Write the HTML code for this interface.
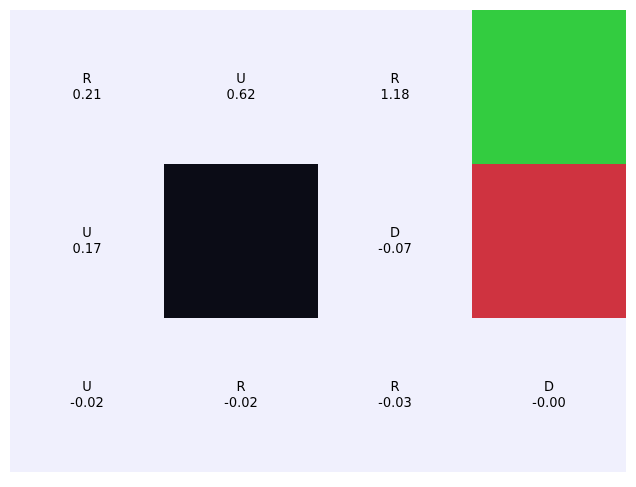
<!DOCTYPE html>
<html><head><meta charset="utf-8"><style>
html,body{margin:0;padding:0;background:#fff;}
svg text{font-family:"DejaVu Sans","Liberation Sans",sans-serif;font-size:13px;fill:#000;}
</style></head><body>
<svg id="chart" width="636" height="482" xmlns="http://www.w3.org/2000/svg"></svg>
<script>
const rows = 3, cols = 4;
const actions = [["R","U","R",""],["U","","D",""],["U","R","R","D"]];
const values = [[0.21,0.62,1.18,null],[0.17,null,-0.07,null],[-0.02,-0.02,-0.03,-0.00]];
const cellTypes = [["empty","empty","empty","goal"],["empty","wall","empty","pit"],["empty","empty","empty","empty"]];
const colors = {empty:"#f0f0fd", goal:"#33cc40", pit:"#cf3340", wall:"#0b0c16"};
const x0 = 10, y0 = 10, W = 616, H = 462;
const cw = W/cols, ch = H/rows;
const xs = c => x0 + c*cw, ys = r => y0 + r*ch;
const svg = document.getElementById('chart');
const NS = "http://www.w3.org/2000/svg";
const bg = document.createElementNS(NS,'rect');
bg.setAttribute('x',x0);bg.setAttribute('y',y0);bg.setAttribute('width',W);bg.setAttribute('height',H);bg.setAttribute('fill',colors.empty);


svg.appendChild(bg);
for (let r=0;r<rows;r++) for (let c=0;c<cols;c++){
  const t = cellTypes[r][c];
  if (t !== "empty"){
    const rect = document.createElementNS(NS,'rect');
    rect.setAttribute('x',xs(c));rect.setAttribute('y',ys(r));
    rect.setAttribute('width',cw);rect.setAttribute('height',ch);
    rect.setAttribute('fill',colors[t]);
    
    
    svg.appendChild(rect);
  }
  if (values[r][c] !== null){
    const cx = xs(c)+cw/2, cy = ys(r)+ch/2;
    const t1 = document.createElementNS(NS,'text');
    t1.setAttribute('x',cx);t1.setAttribute('y',cy-4);t1.setAttribute('text-anchor','middle');
    t1.textContent = actions[r][c];
    
    
    svg.appendChild(t1);
    const t2 = document.createElementNS(NS,'text');
    t2.setAttribute('x',cx);t2.setAttribute('y',cy+12);t2.setAttribute('text-anchor','middle');
    const v = values[r][c];
    t2.textContent = (v === 0 || (v<0 && v>-0.005)) && Object.is(v,-0) ? "-0.00" : v.toFixed(2);
    
    
    svg.appendChild(t2);
  }
}
</script>
</body></html>
